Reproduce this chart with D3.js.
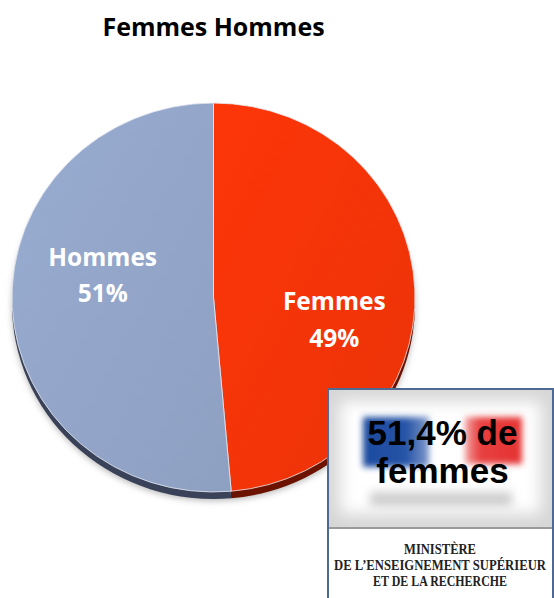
<!DOCTYPE html>
<html>
<head>
<meta charset="utf-8">
<script src="https://cdn.jsdelivr.net/npm/d3@7"></script>
<style>
  html, body { margin: 0; padding: 0; background: #fff; }
  svg { display: block; }
</style>
</head>
<body>
<svg id="chart" width="554" height="598"></svg>
<script>
const title = "Femmes Hommes";
const categories = ["Femmes", "Hommes"];
const values = [48.6, 51.4];
const colors = ["#f23408", "#92a5c8"];
const sideColors = ["#6b1200", "#394259"];
const statLines = ["51,4% de", "femmes"];
const ministryLines = ["MINISTÈRE", "DE L\u2019ENSEIGNEMENT SUPÉRIEUR", "ET DE LA RECHERCHE"];

const svg = d3.select("#chart");
const defs = svg.append("defs");

const cx = 213.5, cy = 297.5, rx = 201.5, ry = 194.5, depth = 7;

// title
svg.append("text")
  .attr("x", 213.5).attr("y", 36)
  .attr("text-anchor", "middle")
  .style("font-family", "'Open Sans', sans-serif")
  .style("font-weight", "bold")
  .style("font-size", "25px")
  .attr("fill", "#000")
  .text(title);

const pie = d3.pie().sort(null).value(d => d.value);
const arcs = pie(categories.map((c, i) => ({ name: c, value: values[i] })));
const arc = d3.arc().innerRadius(0).outerRadius(rx);
const k = ry / rx;

// soft shadow
defs.append("filter").attr("id", "soft")
  .attr("x", "-20%").attr("y", "-20%").attr("width", "140%").attr("height", "140%")
  .append("feGaussianBlur").attr("stdDeviation", 3);

svg.append("ellipse")
  .attr("cx", cx).attr("cy", cy + depth + 2)
  .attr("rx", rx).attr("ry", ry)
  .attr("fill", "#bbb")
  .attr("filter", "url(#soft)");

// pie side (thickness)
const side = svg.append("g")
  .attr("transform", `translate(${cx},${cy + depth}) scale(1,${k})`);
side.selectAll("path")
  .data(arcs)
  .enter()
  .append("path")
  .attr("d", arc)
  .attr("fill", (d, i) => sideColors[i]);

// face gradients
colors.forEach((c, i) => {
  const g = defs.append("linearGradient")
    .attr("id", "grad" + i)
    .attr("x1", "0%").attr("y1", "0%").attr("x2", "100%").attr("y2", "100%");
  g.append("stop").attr("offset", "0%").attr("stop-color", d3.color(c).brighter(0.12));
  g.append("stop").attr("offset", "100%").attr("stop-color", d3.color(c).darker(0.08));
});

const face = svg.append("g")
  .attr("transform", `translate(${cx},${cy}) scale(1,${k})`);
face.selectAll("path")
  .data(arcs)
  .enter()
  .append("path")
  .attr("d", arc)
  .attr("fill", (d, i) => `url(#grad${i})`)
  .attr("stroke", "#e4e8f0")
  .attr("stroke-width", 0.8)
  .attr("vector-effect", "non-scaling-stroke");

// labels
const labelArc = d3.arc().innerRadius(rx * 0.6).outerRadius(rx * 0.6);
const labelShift = [29, -26];
const labels = svg.append("g");
arcs.forEach((d, i) => {
  const [lx, ly] = labelArc.centroid(d);
  const x = cx + lx + (i === 1 ? 10 : 0);
  const y = cy + ly * k + labelShift[i];
  const t = labels.append("text")
    .attr("x", x).attr("y", y)
    .attr("text-anchor", "middle")
    .attr("fill", "#fff")
    .style("font-family", "'Open Sans', sans-serif")
    .style("font-weight", "bold")
    .style("font-size", "24.5px");
  t.append("tspan").attr("x", x).attr("dy", "-0.45em").text(d.data.name);
  t.append("tspan").attr("x", x).attr("dy", "1.5em").text(Math.round(d.data.value) + "%");
});

// ministry box
const box = svg.append("g");
const bx = 328, by = 389, bw = 225, bh = 220, split = 528;

defs.append("filter").attr("id", "blur3")
  .attr("x", "-30%").attr("y", "-30%").attr("width", "160%").attr("height", "160%")
  .append("feGaussianBlur").attr("stdDeviation", 3);
defs.append("filter").attr("id", "blur5")
  .attr("x", "-30%").attr("y", "-60%").attr("width", "160%").attr("height", "220%")
  .append("feGaussianBlur").attr("stdDeviation", 5);
defs.append("filter").attr("id", "blur8")
  .attr("x", "-30%").attr("y", "-30%").attr("width", "160%").attr("height", "160%")
  .append("feGaussianBlur").attr("stdDeviation", 8);

const clip = defs.append("clipPath").attr("id", "upper");
clip.append("rect").attr("x", bx).attr("y", by).attr("width", bw).attr("height", split - by);

box.append("rect")
  .attr("x", bx).attr("y", by).attr("width", bw).attr("height", bh)
  .attr("fill", "#fff");

const upper = box.append("g").attr("clip-path", "url(#upper)");
upper.append("rect")
  .attr("x", bx).attr("y", by).attr("width", bw).attr("height", split - by)
  .attr("fill", "#d6d6d6");
upper.append("rect")
  .attr("x", bx + 12).attr("y", by + 12).attr("width", bw - 24).attr("height", split - by - 26)
  .attr("fill", "#fff")
  .attr("filter", "url(#blur8)");

// blurred flag
const blueG = defs.append("linearGradient").attr("id", "blueG");
blueG.append("stop").attr("offset", "0%").attr("stop-color", "#1d4b9f");
blueG.append("stop").attr("offset", "65%").attr("stop-color", "#2553a6");
blueG.append("stop").attr("offset", "100%").attr("stop-color", "#7f98c9");
const redG = defs.append("linearGradient").attr("id", "redG");
redG.append("stop").attr("offset", "0%").attr("stop-color", "#f3a0a0");
redG.append("stop").attr("offset", "25%").attr("stop-color", "#e84040");
redG.append("stop").attr("offset", "100%").attr("stop-color", "#e43232");

upper.append("rect")
  .attr("x", 363).attr("y", 417).attr("width", 66).attr("height", 50)
  .attr("fill", "url(#blueG)").attr("filter", "url(#blur3)");
upper.append("rect")
  .attr("x", 465).attr("y", 417).attr("width", 57).attr("height", 47)
  .attr("fill", "url(#redG)").attr("filter", "url(#blur3)");
upper.append("rect")
  .attr("x", 370).attr("y", 492).attr("width", 142).attr("height", 14)
  .attr("fill", "#cdcdcd").attr("filter", "url(#blur5)");

upper.selectAll("text.stat")
  .data(statLines)
  .enter()
  .append("text")
  .attr("class", "stat")
  .attr("x", 442.5)
  .attr("y", (d, i) => 445 + i * 38)
  .attr("text-anchor", "middle")
  .style("font-family", "'Liberation Sans', Arial, sans-serif")
  .style("font-weight", "bold")
  .style("font-size", "35px")
  .attr("fill", "#000")
  .text(d => d);

box.append("line")
  .attr("x1", bx).attr("x2", bx + bw)
  .attr("y1", split).attr("y2", split)
  .attr("stroke", "#9a9a9a").attr("stroke-width", 2);

// condensed serif lines: squeeze horizontally to the widths seen in the logo
const ministryWidths = [72, 212, 134];
box.selectAll("text.min")
  .data(ministryLines)
  .enter()
  .append("text")
  .attr("class", "min")
  .attr("text-anchor", "middle")
  .style("font-family", "'Liberation Serif', 'DejaVu Serif', serif")
  .style("font-weight", "bold")
  .style("font-size", "14px")
  .attr("fill", "#222")
  .text(d => d)
  .attr("transform", function (d, i) {
    const sx = Math.min(1, ministryWidths[i] / this.getComputedTextLength());
    return `translate(440,${553.5 + i * 16}) scale(${sx},1)`;
  });

box.append("rect")
  .attr("x", bx).attr("y", by).attr("width", bw).attr("height", bh)
  .attr("fill", "none")
  .attr("stroke", "#4e6a92").attr("stroke-width", 2);
</script>
</body>
</html>
